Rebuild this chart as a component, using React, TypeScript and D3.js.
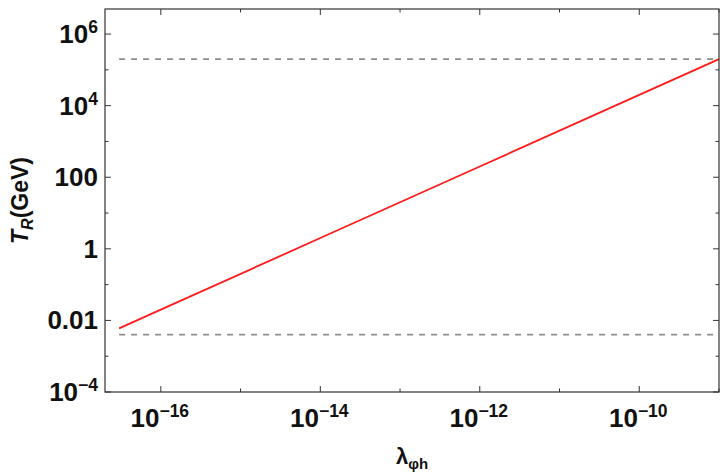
import React from "react";
import * as d3 from "d3";

// coupling values and reheating temperature (log-log straight line)
const lambdaValues = [3e-17, 1e-16, 1e-14, 1e-12, 1e-10, 1e-9];
const tempValues = [0.006, 0.02, 2, 200, 2e4, 2e5];

// horizontal dashed bounds
const boundLevels = [2e5, 0.004];
const boundStart = 3e-17;
const boundEnd = 1e-9;

const xMajorTicks = [1e-16, 1e-14, 1e-12, 1e-10];
const xMinorTicks = [1e-15, 1e-13, 1e-11, 1e-9];
const xTickLabels = [["10", "−16"], ["10", "−14"], ["10", "−12"], ["10", "−10"]];

const yMajorTicks = [1e-4, 1e-2, 1, 100, 1e4, 1e6];
const yMinorTicks = [1e-3, 0.1, 10, 1e3, 1e5];
const yTickLabels = [["10", "−4"], ["0.01", ""], ["1", ""], ["100", ""], ["10", "4"], ["10", "6"]];

const W = 720;
const H = 473;
const margin = { top: 9, right: 1, bottom: 81, left: 105 };

const FONT = "'Liberation Sans', Arimo, Arial, Helvetica, sans-serif";

const App = () => {
  const x = d3
    .scaleLog()
    .domain([Math.pow(10, -16.7), 1e-9])
    .range([margin.left, W - margin.right]);
  const y = d3
    .scaleLog()
    .domain([1e-4, Math.pow(10, 6.7)])
    .range([H - margin.bottom, margin.top]);

  const x0 = margin.left;
  const x1 = W - margin.right;
  const y0 = H - margin.bottom;
  const y1 = margin.top;

  const line = d3
    .line<number>()
    .x((d, i) => x(lambdaValues[i]))
    .y((d) => y(d));

  const frameColor = "#333";
  const major = 6;
  const minor = 3.5;
  const txt = { fontFamily: FONT, fontWeight: 700 } as React.CSSProperties;

  return (
    <svg
      width={W}
      height={H}
      style={{ position: "absolute", left: 0, top: 0, background: "#fff" }}
    >
      {/* dashed bounds */}
      {boundLevels.map((v, i) => (
        <line
          key={"b" + i}
          x1={x(boundStart)}
          x2={x(boundEnd)}
          y1={y(v)}
          y2={y(v)}
          stroke="#8c8c8c"
          strokeWidth={1.6}
          strokeDasharray="6,6"
        />
      ))}

      {/* main curve */}
      <path d={line(tempValues) || ""} fill="none" stroke="#ff1a1a" strokeWidth={1.8} />

      {/* frame */}
      <rect x={x0} y={y1} width={x1 - x0} height={y0 - y1} fill="none" stroke={frameColor} strokeWidth={1.2} />

      {/* x ticks, bottom and top, inward */}
      {xMajorTicks.map((t, i) => (
        <g key={"xm" + i} stroke={frameColor} strokeWidth={1}>
          <line x1={x(t)} x2={x(t)} y1={y0} y2={y0 - major} />
          <line x1={x(t)} x2={x(t)} y1={y1} y2={y1 + major} />
        </g>
      ))}
      {xMinorTicks.map((t, i) => (
        <g key={"xn" + i} stroke={frameColor} strokeWidth={1}>
          <line x1={x(t)} x2={x(t)} y1={y0} y2={y0 - minor} />
          <line x1={x(t)} x2={x(t)} y1={y1} y2={y1 + minor} />
        </g>
      ))}

      {/* y ticks, left and right, inward */}
      {yMajorTicks.map((t, i) => (
        <g key={"ym" + i} stroke={frameColor} strokeWidth={1}>
          <line x1={x0} x2={x0 + major} y1={y(t)} y2={y(t)} />
          <line x1={x1} x2={x1 - major} y1={y(t)} y2={y(t)} />
        </g>
      ))}
      {yMinorTicks.map((t, i) => (
        <g key={"yn" + i} stroke={frameColor} strokeWidth={1}>
          <line x1={x0} x2={x0 + minor} y1={y(t)} y2={y(t)} />
          <line x1={x1} x2={x1 - minor} y1={y(t)} y2={y(t)} />
        </g>
      ))}

      {/* x tick labels */}
      {xMajorTicks.map((t, i) => (
        <text
          key={"xl" + i}
          x={x(t) - 1}
          y={y0 + 35}
          textAnchor="middle"
          fontSize={26}
          fill="#111"
          style={txt}
        >
          {xTickLabels[i][0]}
          <tspan fontSize={17.5} dy={-10}>
            {xTickLabels[i][1]}
          </tspan>
        </text>
      ))}

      {/* y tick labels */}
      {yMajorTicks.map((t, i) => (
        <text
          key={"yl" + i}
          x={x0 - 7}
          y={y(t) + 9}
          textAnchor="end"
          fontSize={26}
          fill="#111"
          style={txt}
        >
          {yTickLabels[i][0]}
          {yTickLabels[i][1] && (
            <tspan fontSize={17.5} dy={-10}>
              {yTickLabels[i][1]}
            </tspan>
          )}
        </text>
      ))}

      {/* axis titles */}
      <text
        x={(x0 + x1) / 2}
        y={464}
        textAnchor="middle"
        fontSize={22}
        fill="#111"
        style={txt}
      >
        λ
        <tspan fontSize={15} dy={5}>
          φh
        </tspan>
      </text>
      <text
        transform={`translate(28, ${(y0 + y1) / 2}) rotate(-90)`}
        textAnchor="middle"
        fontSize={23}
        fill="#111"
        style={txt}
      >
        <tspan fontStyle="italic">T</tspan>
        <tspan fontStyle="italic" fontSize={16} dy={5}>
          R
        </tspan>
        <tspan dy={-5}>(GeV)</tspan>
      </text>
    </svg>
  );
};

export default App;
